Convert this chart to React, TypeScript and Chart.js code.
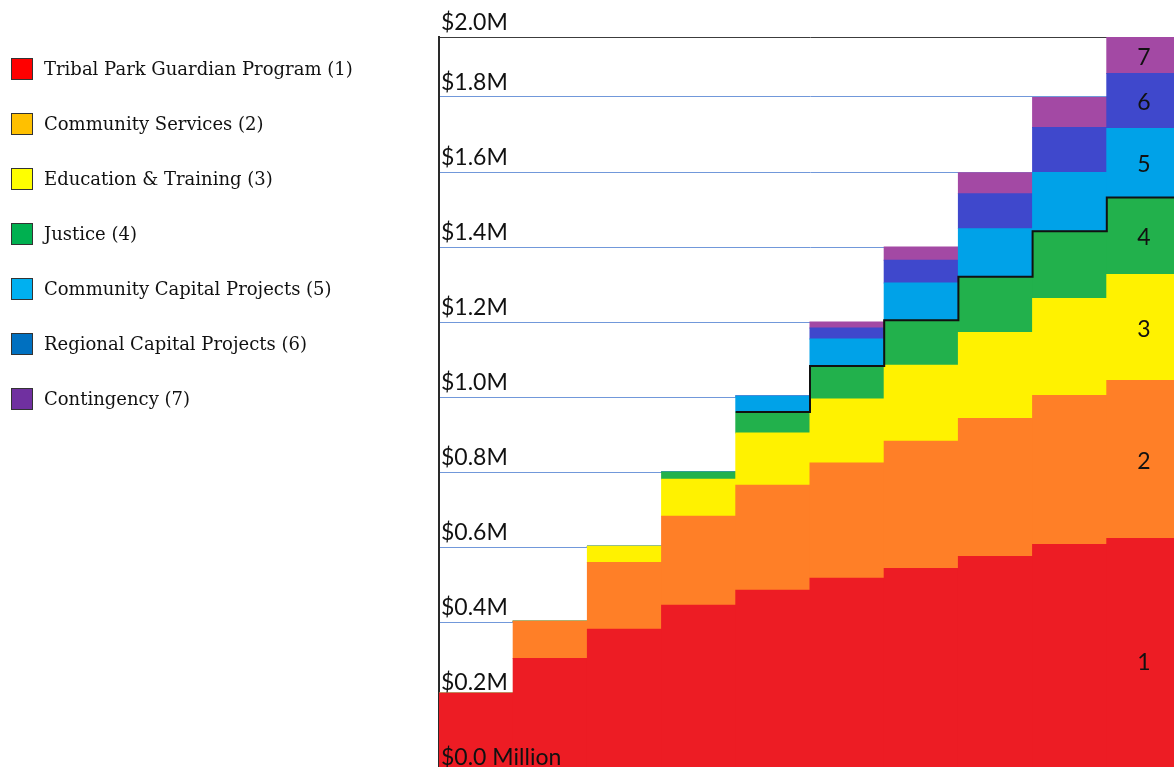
import React, { useEffect, useRef } from "react";
import { Chart, registerables } from "chart.js";

Chart.register(...registerables);

// ---- Data (values in $ millions) ----
const categories = ["Year 1", "Year 2", "Year 3", "Year 4", "Year 5", "Year 6", "Year 7", "Year 8", "Year 9", "Year 10"];

const seriesNames = [
  "Tribal Park Guardian Program (1)",
  "Community Services (2)",
  "Education & Training (3)",
  "Justice (4)",
  "Community Capital Projects (5)",
  "Regional Capital Projects (6)",
  "Contingency (7)",
];
const segmentNumbers = ["1", "2", "3", "4", "5", "6", "7"];

const guardian = [0.21, 0.303, 0.381, 0.445, 0.485, 0.517, 0.543, 0.575, 0.607, 0.623];
const communityServices = [0, 0.099, 0.178, 0.237, 0.28, 0.307, 0.339, 0.368, 0.397, 0.421];
const education = [0, 0, 0.043, 0.099, 0.139, 0.171, 0.203, 0.229, 0.259, 0.283];
const justice = [0, 0, 0, 0.019, 0.056, 0.088, 0.12, 0.149, 0.179, 0.205];
const communityCapital = [0, 0, 0, 0, 0.043, 0.072, 0.099, 0.128, 0.157, 0.184];
const regionalCapital = [0, 0, 0, 0, 0, 0.029, 0.061, 0.093, 0.12, 0.147];
const contingency = [0, 0, 0, 0, 0, 0.016, 0.035, 0.056, 0.08, 0.096];

const seriesValues = [guardian, communityServices, education, justice, communityCapital, regionalCapital, contingency];

const yMax = 1.96;
const tickValues = [0, 0.2, 0.4, 0.6, 0.8, 1.0, 1.2, 1.4, 1.6, 1.8, yMax];
const tickLabels = ["$0.0 Million", "$0.2M", "$0.4M", "$0.6M", "$0.8M", "$1.0M", "$1.2M", "$1.4M", "$1.6M", "$1.8M", "$2.0M"];

// first bar index where the Justice outline starts
const outlineStart = 4;

// ---- Styles ----
const barColors = ["#ED1C24", "#FF7F27", "#FFF200", "#22B14C", "#00A2E8", "#3F48CC", "#A349A4"];
const legendColors = ["#FF0000", "#FFC000", "#FFFF00", "#00B050", "#00B0F0", "#0070C0", "#7030A0"];
const legendCenters = [69, 124, 179, 234, 289, 344, 399];
const labelFont = "Lato, 'Open Sans', sans-serif";

const justiceOutline = {
  id: "justiceOutline",
  afterDatasetsDraw(chart: any) {
    const meta = chart.getDatasetMeta(3);
    const ctx = chart.ctx;
    ctx.save();
    ctx.strokeStyle = "#111";
    ctx.lineWidth = 2;
    ctx.beginPath();
    let first = true;
    for (let i = outlineStart; i < meta.data.length; i++) {
      const el = meta.data[i];
      const { x, y, width } = el.getProps(["x", "y", "width"], true);
      const left = x - width / 2;
      const right = x + width / 2;
      if (first) {
        ctx.moveTo(left, y);
        first = false;
      } else {
        ctx.lineTo(left, y);
      }
      ctx.lineTo(right, y);
    }
    ctx.stroke();
    ctx.restore();
  },
};

const segmentLabels = {
  id: "segmentLabels",
  afterDatasetsDraw(chart: any) {
    const ctx = chart.ctx;
    const last = categories.length - 1;
    ctx.save();
    ctx.fillStyle = "#111";
    ctx.font = "23px " + labelFont;
    ctx.textAlign = "center";
    ctx.textBaseline = "middle";
    for (let d = 0; d < seriesValues.length; d++) {
      const el = chart.getDatasetMeta(d).data[last];
      const { x, y, base } = el.getProps(["x", "y", "base"], true);
      const bottom = Math.min(base, chart.chartArea.bottom);
      ctx.fillText(segmentNumbers[d], x, (y + bottom) / 2 + (d === 0 ? 8 : 2));
    }
    ctx.restore();
  },
};

export default function App() {
  const canvasRef = useRef<HTMLCanvasElement | null>(null);

  useEffect(() => {
    const canvas = canvasRef.current;
    if (!canvas) return;
    const setTicks = (scale: any) => {
      scale.ticks = tickValues.map((value) => ({ value }));
    };
    const zeroFit = (s: any) => {
      s.width = 0;
      s.paddingTop = 0;
      s.paddingBottom = 0;
      s.paddingLeft = 0;
      s.paddingRight = 0;
    };
    const chart = new Chart(canvas, {
      type: "bar",
      data: {
        labels: categories,
        datasets: seriesValues.map((values, i) => ({
          label: seriesNames[i],
          data: values,
          backgroundColor: barColors[i],
          borderWidth: 0,
          inflateAmount: 0.5,
          categoryPercentage: 1,
          barPercentage: 1,
        })),
      },
      options: {
        animation: false,
        responsive: false,
        devicePixelRatio: 1,
        layout: { padding: { left: 439, top: 37, right: 1, bottom: 8 } },
        plugins: { legend: { display: false }, tooltip: { enabled: false } },
        scales: {
          x: { stacked: true, display: false },
          y: {
            stacked: true,
            min: 0,
            max: yMax,
            afterBuildTicks: setTicks,
            afterFit: zeroFit,
            grid: {
              drawTicks: false,
              lineWidth: 1,
              color: (c: any) => (c.tick && c.tick.value === yMax ? "#3c3c3c" : "#7198da"),
            },
            border: { display: true, color: "#2a2a2a", width: 2 },
            ticks: { display: false },
          },
          yLabels: {
            type: "linear",
            position: "left",
            min: 0,
            max: yMax,
            afterBuildTicks: setTicks,
            afterFit: zeroFit,
            grid: { display: false, drawTicks: false },
            border: { display: false },
            ticks: {
              z: 1,
              mirror: true,
              padding: 2,
              labelOffset: -14,
              color: "#111",
              font: { family: labelFont, size: 23 },
              callback: (_v: any, index: number) => tickLabels[index],
            },
          },
        },
      } as any,
      plugins: [justiceOutline, segmentLabels],
    });
    return () => chart.destroy();
  }, []);

  return (
    <div style={{ position: "fixed", left: 0, top: 0, width: 1174, height: 767, overflow: "hidden", background: "#fff" }}>
      <canvas ref={canvasRef} width={1182} height={780} style={{ position: "absolute", left: 0, top: 0 }} />
      {seriesNames.map((name, i) => (
        <div key={name} style={{ position: "absolute", left: 0, top: legendCenters[i] - 11, height: 22 }}>
          <div
            style={{
              position: "absolute",
              left: 11,
              top: 0,
              width: 22,
              height: 22,
              boxSizing: "border-box",
              border: "1px solid #333",
              background: legendColors[i],
            }}
          />
          <div
            style={{
              position: "absolute",
              left: 44,
              top: 0,
              lineHeight: "22px",
              whiteSpace: "nowrap",
              fontFamily: "'DejaVu Serif', serif",
              fontSize: 18,
              color: "#111",
            }}
          >
            {name}
          </div>
        </div>
      ))}
    </div>
  );
}
